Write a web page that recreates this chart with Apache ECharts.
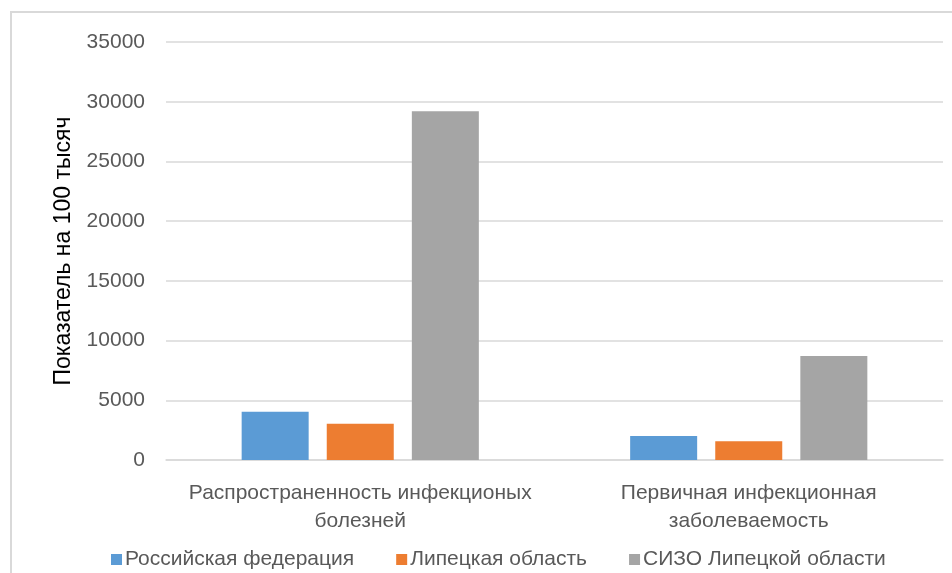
<!DOCTYPE html>
<html>
<head>
<meta charset="utf-8">
<script src="https://cdn.jsdelivr.net/npm/echarts@6/dist/echarts.min.js"></script>
<style>
  html, body { margin: 0; padding: 0; background: #fff; }
  #chart { width: 952px; height: 573px; }
</style>
</head>
<body>
<div id="chart"></div>
<script>
// Categories along the x axis
const categories = [
  'Распространенность инфекционых\nболезней',
  'Первичная инфекционная\nзаболеваемость'
];

// Series names and values (per 100 thousand)
const seriesNames = ['Российская федерация', 'Липецкая область', 'СИЗО Липецкой области'];
const russiaValues = [4030, 2000];
const lipetskValues = [3040, 1580];
const sizoValues = [29200, 8700];

// Y axis range
const yMin = 0;
const yMax = 35000;
const yStep = 5000;

const colors = ['#5b9bd5', '#ed7d31', '#a5a5a5'];
const fontFamily = '"Liberation Sans", Arial, sans-serif';

const chart = echarts.init(document.getElementById('chart'), null, { renderer: 'canvas' });

const seriesValues = [russiaValues, lipetskValues, sizoValues];

chart.setOption({
  animation: false,
  color: colors,
  textStyle: { fontFamily: fontFamily },
  graphic: [{
    type: 'rect',
    shape: { x: 11, y: 12, width: 1000, height: 1000 },
    style: { fill: 'none', stroke: '#d9d9d9', lineWidth: 2 },
    silent: true
  }],
  grid: { left: 166, right: 9, top: 42, bottom: 113, containLabel: false },
  legend: {
    data: seriesNames,
    left: 106,
    top: 544,
    itemWidth: 11,
    itemHeight: 11,
    itemGap: 42,
    icon: 'rect',
    textStyle: { color: '#595959', fontSize: 21, fontFamily: fontFamily, padding: [0, 0, 0, -2] }
  },
  xAxis: {
    type: 'category',
    data: categories,
    axisLine: { show: true, lineStyle: { color: '#d9d9d9', width: 1.5 } },
    axisTick: { show: false },
    axisLabel: {
      color: '#595959',
      fontSize: 21,
      lineHeight: 28,
      margin: 19,
      interval: 0,
      fontFamily: fontFamily
    }
  },
  yAxis: {
    type: 'value',
    min: yMin,
    max: yMax,
    interval: yStep,
    name: 'Показатель на 100 тысяч',
    nameLocation: 'middle',
    nameRotate: 90,
    nameGap: 91,
    nameTextStyle: { color: '#000', fontSize: 23, fontFamily: fontFamily },
    axisLine: { show: false },
    axisTick: { show: false },
    splitLine: { lineStyle: { color: '#d9d9d9', width: 1.5 } },
    axisLabel: {
      color: '#595959',
      fontSize: 21,
      margin: 21,
      fontFamily: fontFamily,
      formatter: (v) => String(v)
    }
  },
  series: seriesNames.map((name, i) => ({
    name: name,
    type: 'bar',
    data: seriesValues[i],
    barWidth: 67,
    barGap: '27%',
    itemStyle: { color: colors[i] }
  }))
});
</script>
</body>
</html>
